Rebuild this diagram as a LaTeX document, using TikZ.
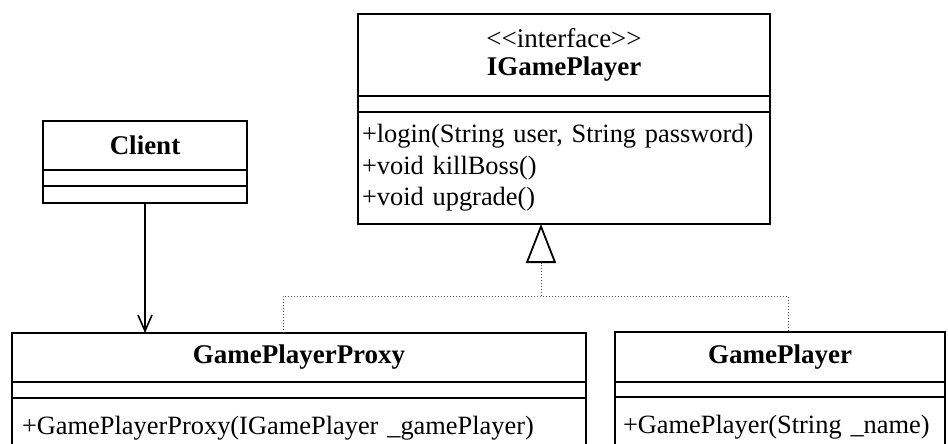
\documentclass[tikz,border=0pt]{standalone}
\usepackage{fontspec}
\setmainfont{Liberation Serif}
\usetikzlibrary{positioning,arrows.meta}
\newcommand{\umlfont}{\fontsize{13.5}{15.7}\selectfont\hyphenpenalty=10000}
\newcommand{\opsfont}{\fontsize{13.2}{15.7}\selectfont\hyphenpenalty=10000}

\begin{document}
\begin{tikzpicture}[x=0.5pt, y=-0.5pt,
    every node/.style={font=\umlfont},
    box/.style={draw, line width=0.9pt, inner xsep=3pt, inner ysep=0pt, outer sep=0pt},
    head/.style={box, anchor=north west, align=center},
    ops/.style={box, inner xsep=2pt, align=left, font=\opsfont},
    use/.style={line width=0.8pt, -{Straight Barb[length=8pt, width=7pt]}},
    real/.style={draw=black!70, line width=0.5pt, densely dotted}]
  \useasboundingbox (0,0) rectangle (948,444);
  % Client
  \node[head, text width=96pt, minimum height=24.5pt, font=\umlfont\bfseries] (client) at (43,121) {Client};
  \node[box, text width=96pt, minimum height=8pt, below=0pt of client] (client-attr) {};
  \node[box, text width=96pt, minimum height=8.5pt, below=0pt of client-attr] (client-ops) {};
  % Interface
  \node[head, text width=200pt, minimum height=41pt] (igp) at (358,14)
    {<\kern0pt<interface>\kern0pt>\\[-2pt]\textbf{IGamePlayer}};
  \node[box, text width=200pt, minimum height=8pt, below=0pt of igp] (igp-attr) {};
  \node[ops, text width=202pt, minimum height=56pt, below=0pt of igp-attr] (igp-ops)
    {\mbox{+login(String user, String password)}\\+void killBoss()\\+void upgrade()};
  % Proxy
  \node[head, text width=281pt, minimum height=24.5pt, font=\umlfont\bfseries] (proxy) at (12,333) {GamePlayerProxy};
  \node[box, text width=281pt, minimum height=8pt, below=0pt of proxy] (proxy-attr) {};
  \node[ops, text width=283pt, minimum height=30pt, below=0pt of proxy-attr] (proxy-ops)
    {\hspace{3pt}+GamePlayerProxy(IGamePlayer \_gamePlayer)};
  % Real subject
  \node[head, text width=159pt, minimum height=25pt, font=\umlfont\bfseries] (gp) at (615,332) {GamePlayer};
  \node[box, text width=159pt, minimum height=7.5pt, below=0pt of gp] (gp-attr) {};
  \node[ops, text width=161pt, minimum height=30pt, below=0pt of gp-attr] (gp-ops)
    {\hspace{2pt}+GamePlayer(String \_name)};
  % Connectors
  \coordinate (bus) at (541,296);
  \draw[use] (client-ops.south) -- (client-ops.south |- proxy.north);
  \draw[real] ([xshift=-8pt]proxy.north) |- (bus) -| ([xshift=4pt]gp.north);
  \draw[real, -{Triangle[open, length=19.5pt, width=15pt, line width=0.9pt, color=black]}]
    (bus) -- (bus |- igp-ops.south);
\end{tikzpicture}
\end{document}
